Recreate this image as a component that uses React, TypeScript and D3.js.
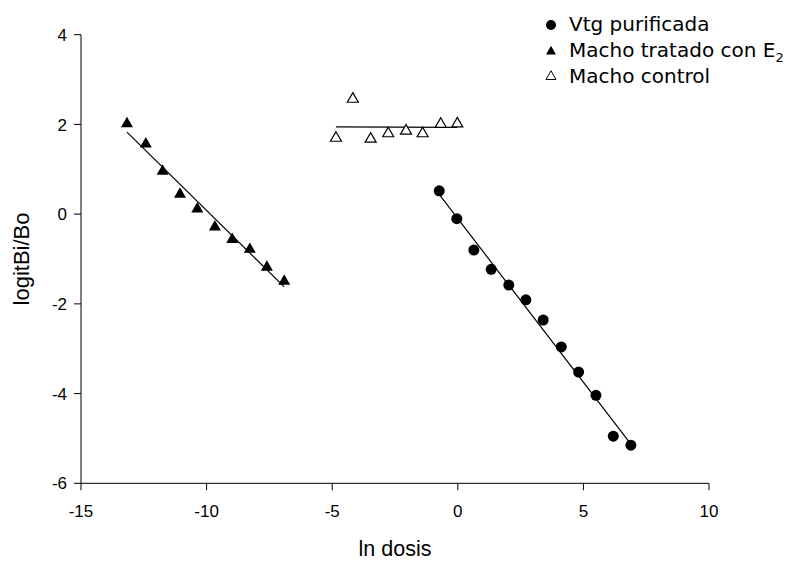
import React from "react";
import * as d3 from "d3";

const vtgX = [-0.74, -0.04, 0.64, 1.33, 2.03, 2.71, 3.4, 4.12, 4.81, 5.5, 6.19, 6.89];
const vtgY = [0.52, -0.1, -0.8, -1.23, -1.58, -1.91, -2.36, -2.96, -3.52, -4.04, -4.95, -5.15];
const e2X = [-13.17, -12.42, -11.75, -11.06, -10.37, -9.67, -8.98, -8.28, -7.6, -6.91];
const e2Y = [2.03, 1.58, 0.97, 0.46, 0.13, -0.27, -0.55, -0.77, -1.17, -1.48];
const ctlX = [-4.85, -4.18, -3.47, -2.77, -2.06, -1.4, -0.68, -0.02];
const ctlY = [1.71, 2.58, 1.69, 1.81, 1.87, 1.81, 2.02, 2.03];
const xTicks = [-15, -10, -5, 0, 5, 10];
const yTicks = [4, 2, 0, -2, -4, -6];

const W = 792, H = 561;
const x = d3.scaleLinear().domain([-15, 10]).range([81, 709]);
const y = d3.scaleLinear().domain([-6, 4]).range([483.3, 34.7]);

function fit(xs: number[], ys: number[]) {
  const mx = d3.mean(xs)!, my = d3.mean(ys)!;
  let sxy = 0, sxx = 0;
  xs.forEach((v, i) => { sxy += (v - mx) * (ys[i] - my); sxx += (v - mx) ** 2; });
  const b = sxy / sxx, a = my - b * mx;
  const x0 = d3.min(xs)!, x1 = d3.max(xs)!;
  return [[x0, a + b * x0], [x1, a + b * x1]] as [number, number][];
}

const line = d3.line<[number, number]>().x(d => x(d[0])).y(d => y(d[1]));

function tri(cx: number, cy: number, s: number) {
  const h = s * 0.87;
  return `M${cx},${cy - h * 0.6}L${cx + s / 2},${cy + h * 0.4}L${cx - s / 2},${cy + h * 0.4}Z`;
}

export default function App() {
  const tickFont = "'Liberation Sans', Arial, sans-serif";
  const legFont = "'DejaVu Sans', Verdana, sans-serif";
  const x0 = 81, x1 = 709;
  return (
    <svg width={W} height={H} style={{ position: "absolute", left: 0, top: 0, background: "#fff" }}>
      {/* axes */}
      <line x1={x0} x2={x0} y1={y(4)} y2={y(-6)} stroke="#000" strokeWidth={1} />
      <line x1={x0} x2={x1} y1={y(-6)} y2={y(-6)} stroke="#000" strokeWidth={1} />
      {yTicks.map(t => (
        <g key={"y" + t}>
          <line x1={74} x2={x0} y1={y(t)} y2={y(t)} stroke="#000" />
          <text x={67} y={y(t)} dy="0.36em" textAnchor="end" fontFamily={tickFont} fontSize={17}>{t}</text>
        </g>
      ))}
      {xTicks.map(t => (
        <g key={"x" + t}>
          <line x1={x(t)} x2={x(t)} y1={y(-6)} y2={y(-6) + 7} stroke="#000" />
          <text x={x(t)} y={517} textAnchor="middle" fontFamily={tickFont} fontSize={17}>{t}</text>
        </g>
      ))}
      <text x={(x0 + x1) / 2} y={556} textAnchor="middle" fontFamily={tickFont} fontSize={21.5}>ln dosis</text>
      <text transform={`translate(29,${(y(4) + y(-6)) / 2}) rotate(-90)`} textAnchor="middle" fontFamily={tickFont} fontSize={22}>logitBi/Bo</text>

      {/* regression lines */}
      <path d={line(fit(vtgX, vtgY))!} stroke="#000" strokeWidth={1.2} fill="none" />
      <path d={line(fit(e2X, e2Y))!} stroke="#000" strokeWidth={1.2} fill="none" />
      <path d={line(fit(ctlX, ctlY))!} stroke="#000" strokeWidth={1.2} fill="none" />

      {/* points */}
      {vtgX.map((v, i) => (
        <circle key={"v" + i} cx={x(v)} cy={y(vtgY[i])} r={5.5} fill="#000" />
      ))}
      {e2X.map((v, i) => (
        <path key={"e" + i} d={tri(x(v), y(e2Y[i]), 12)} fill="#000" />
      ))}
      {ctlX.map((v, i) => (
        <path key={"c" + i} d={tri(x(v), y(ctlY[i]), 11)} fill="#fff" stroke="#000" strokeWidth={1.2} />
      ))}

      {/* legend */}
      <circle cx={551} cy={25} r={5} fill="#000" />
      <path d={tri(551, 51, 10)} fill="#000" />
      <path d={tri(551, 76, 10)} fill="#fff" stroke="#000" strokeWidth={1} />
      <g fontFamily={legFont} fontSize={20}>
        <text x={569} y={31}>Vtg purificada</text>
        <text x={569} y={57}>Macho tratado con E<tspan fontSize={13} dy={5}>2</tspan></text>
        <text x={569} y={83}>Macho control</text>
      </g>
    </svg>
  );
}
